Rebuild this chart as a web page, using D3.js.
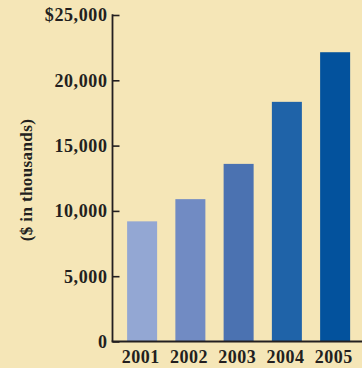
<!DOCTYPE html>
<html>
<head>
<meta charset="utf-8">
<script src="https://cdn.jsdelivr.net/npm/d3@7"></script>
<style>
  html, body { margin: 0; padding: 0; background: #f5e6b7; }
  svg { display: block; }
  text { font-family: "Liberation Serif", "Times New Roman", serif; font-weight: bold; fill: #231f20; }
</style>
</head>
<body>
<svg id="chart" width="362" height="368"></svg>
<script>
// Annual totals, $ in thousands
const years = ["2001", "2002", "2003", "2004", "2005"];
const values = [9200, 10900, 13600, 18350, 22150];
const barColors = ["#93a7d3", "#718bc3", "#4b72b1", "#1f63a8", "#03529d"];
const yTicks = [0, 5000, 10000, 15000, 20000, 25000];
const yTickLabels = ["0", "5,000", "10,000", "15,000", "20,000", "$25,000"];

const svg = d3.select("#chart");
const axisX = 112.5;
const baseY = 341.5;
const topY = 15;

const y = d3.scaleLinear().domain([0, 25000]).range([baseY, topY]);
const x = d3.scaleBand().domain(years).range([118, 359.25])
  .paddingInner(0.378).paddingOuter(0.189);

// bars
svg.append("g").selectAll("rect")
  .data(years)
  .join("rect")
  .attr("x", d => x(d))
  .attr("width", x.bandwidth())
  .attr("y", (d, i) => y(values[i]))
  .attr("height", (d, i) => baseY - y(values[i]))
  .attr("fill", (d, i) => barColors[i]);

// y axis: ticks point inward, labels on the left
const yAxis = d3.axisRight(y)
  .tickValues(yTicks)
  .tickSize(7)
  .tickFormat("");
const gy = svg.append("g")
  .attr("transform", `translate(${axisX},0)`)
  .call(yAxis);
gy.select(".domain").remove();
gy.selectAll(".tick line").attr("stroke", "#231f20").attr("stroke-width", 1.6);

svg.append("g").selectAll("text")
  .data(yTicks)
  .join("text")
  .attr("x", axisX - 5)
  .attr("y", d => y(d))
  .attr("dy", "0.35em")
  .attr("text-anchor", "end")
  .style("font-size", "18px")
  .style("letter-spacing", "0.6px")
  .text((d, i) => yTickLabels[i]);

// axis lines
svg.append("line")
  .attr("x1", axisX).attr("x2", axisX)
  .attr("y1", topY - 0.8).attr("y2", baseY)
  .attr("stroke", "#231f20").attr("stroke-width", 1.8);
svg.append("line")
  .attr("x1", axisX - 0.9).attr("x2", 362)
  .attr("y1", baseY).attr("y2", baseY)
  .attr("stroke", "#231f20").attr("stroke-width", 1.8);

// x labels
const xAxis = d3.axisBottom(x).tickSize(0).tickPadding(0);
const gx = svg.append("g")
  .attr("transform", `translate(0,${baseY})`)
  .call(xAxis);
gx.select(".domain").remove();
gx.selectAll(".tick text")
  .attr("y", 21.5)
  .attr("dy", 0)
  .attr("dx", -1.5)
  .attr("fill", "#231f20")
  .style("font-family", "'Liberation Serif', 'Times New Roman', serif")
  .style("font-weight", "bold")
  .style("font-size", "18px")
  .style("letter-spacing", "0.5px");

// y axis title
svg.append("text")
  .attr("transform", "translate(32,180) rotate(-90)")
  .attr("text-anchor", "middle")
  .style("font-size", "17px")
  .style("letter-spacing", "0.4px")
  .text("($ in thousands)");
</script>
</body>
</html>
